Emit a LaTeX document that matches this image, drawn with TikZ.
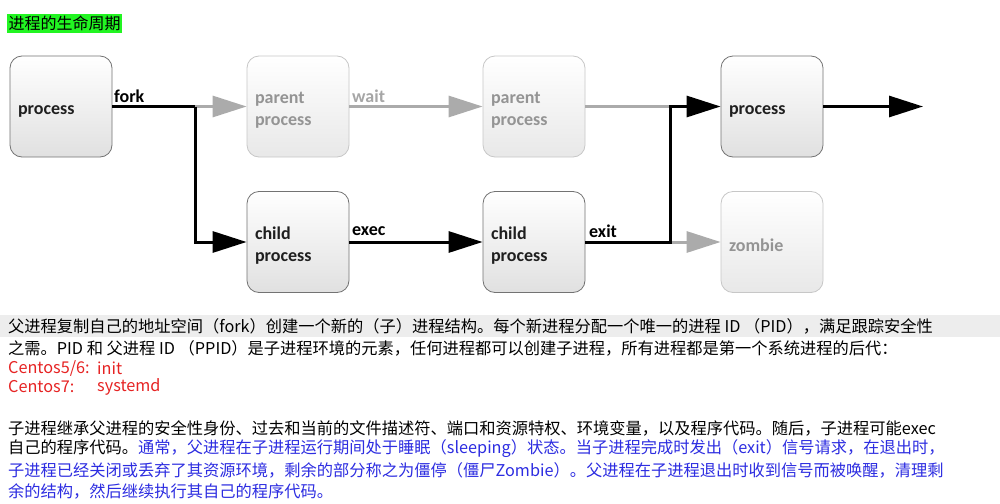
\documentclass[tikz,border=0pt]{standalone}
\usepackage{fontspec}
\usepackage{xcolor}
\usepackage{tikz}
\usetikzlibrary{arrows.meta,positioning}
\newfontfamily\cjk{Noto Sans CJK SC}
\newfontfamily\boxfont{Carlito}
\definecolor{titlegreen}{RGB}{34,245,34}
\definecolor{notered}{RGB}{230,35,35}
\definecolor{noteblue}{RGB}{45,45,225}
\tikzset{proc/.style={rectangle,rounded corners=12pt,draw=black!55,line width=0.8pt,top color=white,bottom color=black!12,minimum width=102pt,minimum height=101pt,text width=86pt,inner sep=8pt,align=left,execute at begin node={\rule{0pt}{19pt}},font=\boxfont\bfseries\fontsize{18}{22}\selectfont,text=black!88}}
\tikzset{ghost/.style={proc,draw=black!22,bottom color=black!9,text=black!42}}
\tikzset{lbl/.style={anchor=west,inner sep=0pt,font=\boxfont\bfseries\fontsize{18}{22}\selectfont}}
\tikzset{blk/.style={line width=3pt,black,-{Triangle[length=34pt,width=21pt]}}}
\tikzset{gry/.style={line width=3pt,black!33,-{Triangle[length=34pt,width=21pt]}}}
\tikzset{para/.style={anchor=west,inner sep=0pt,font=\cjk\fontsize{16.25}{21}\selectfont}}

\begin{document}
\begin{tikzpicture}[x=1pt,y=-1pt]
    \useasboundingbox[fill=white] (0,0) rectangle (1000,503);

    \node[fill=titlegreen,anchor=west,inner sep=1.5pt,font=\cjk\fontsize{16}{18}\selectfont] (title) at (7,23.5) {进程的生命周期};

    \node[proc] (p) at (61,106.5) {process};
    \node[ghost] (pa) at (298,106.5) {parent\\process};
    \node[ghost] (pb) at (534,106.5) {parent\\process};
    \node[proc] (q) at (772,106.5) {process};
    \node[proc] (ca) at (298,242) {child\\process};
    \node[proc] (cb) at (534,242) {child\\process};
    \node[ghost] (z) at (772,242) {zombie};

    \coordinate (f1) at (195,106.5);
    \coordinate (f2) at (195,242);
    \coordinate (e1) at (670,242);
    \coordinate (e2) at (670,106.5);
    \coordinate (out) at (923,106.5);

    \draw [gry] (f1) to (pa);
    \draw [gry] (pa) to (pb);
    \draw [gry,-] (pb) to (e2);
    \draw [gry] (e1) to (z);
    \draw [blk,-] (p) to (f1);
    \draw [blk] (f1) |- (ca);
    \draw [blk] (ca) to (cb);
    \draw [blk] (cb) -| (e2) to (q);
    \draw [blk] (q) to (out);

    \node[lbl] (fork) at (114,96) {fork};
    \node[lbl,text=black!35] (wait) at (352,96) {wait};
    \node[lbl] (exec) at (352,231) {exec};
    \node[lbl] (exit) at (589,231) {exit};

    \fill[black!7] (0,315) rectangle (1000,337);
    \node[para] (t1) at (8,326) {父进程复制自己的地址空间（fork）创建一个新的（子）进程结构。每个新进程分配一个唯一的进程 ID （PID），满足跟踪安全性};
    \node[para] (t2) at (8,348) {之需。PID 和 父进程 ID （PPID）是子进程环境的元素，任何进程都可以创建子进程，所有进程都是第一个系统进程的后代：};
    \node[para,text=notered] (c6) at (8,368) {Centos5/6:};
    \node[para,text=notered] (c6v) at (97,368) {init};
    \node[para,text=notered] (c7) at (8,387) {Centos7:};
    \node[para,text=notered] (c7v) at (97,387) {systemd};
    \node[para] (t3) at (8,428) {子进程继承父进程的安全性身份、过去和当前的文件描述符、端口和资源特权、环境变量，以及程序代码。随后，子进程可能exec};
    \node[para] (t4) at (8,449) {自己的程序代码。{\color{noteblue}通常，父进程在子进程运行期间处于睡眠（sleeping）状态。当子进程完成时发出（exit）信号请求，在退出时，}};
    \node[para,text=noteblue] (t5) at (8,470) {子进程已经关闭或丢弃了其资源环境，剩余的部分称之为僵停（僵尸Zombie）。父进程在子进程退出时收到信号而被唤醒，清理剩};
    \node[para,text=noteblue] (t6) at (8,491) {余的结构，然后继续执行其自己的程序代码。};
\end{tikzpicture}
\end{document}
